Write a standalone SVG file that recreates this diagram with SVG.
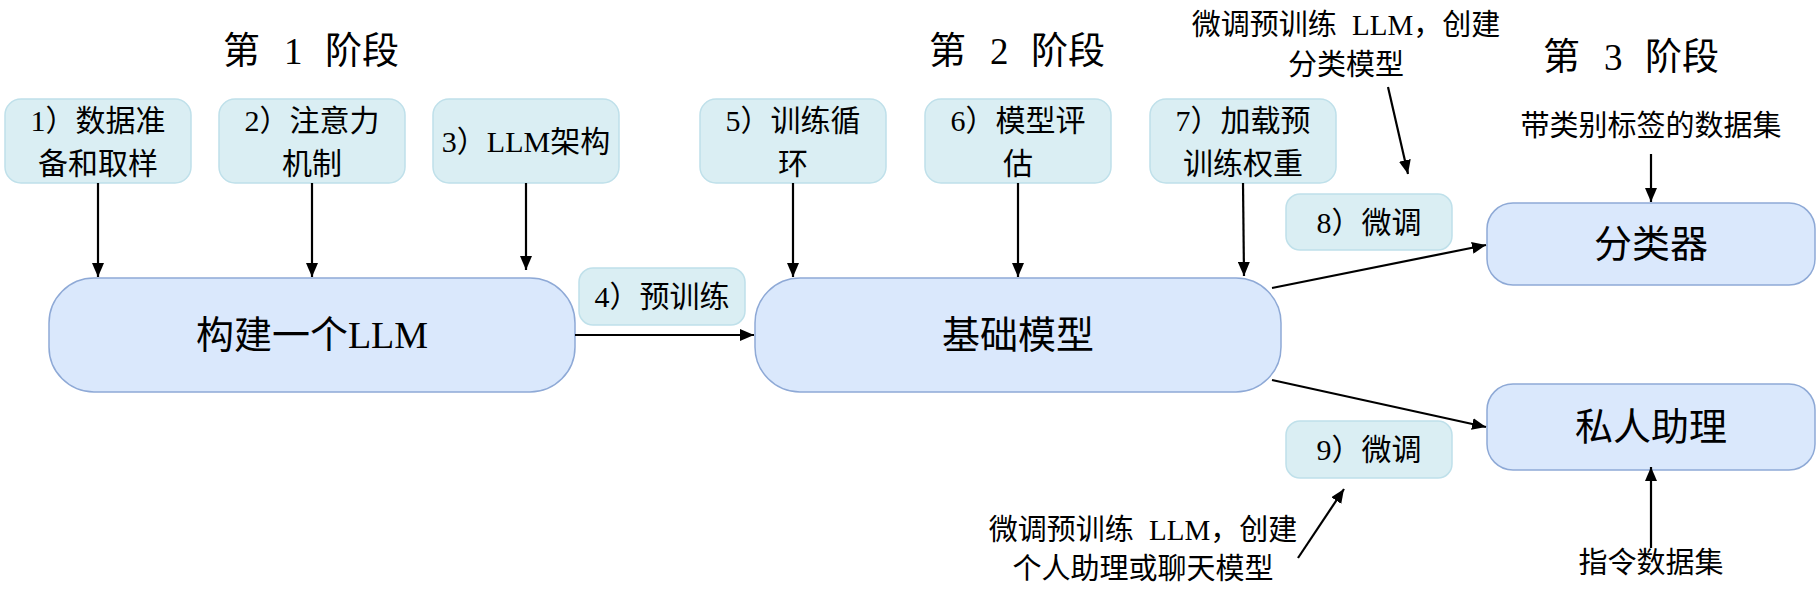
<svg xmlns="http://www.w3.org/2000/svg" width="1820" height="594" viewBox="0 0 1820 594">
<defs>
<marker id="ah" markerUnits="userSpaceOnUse" markerWidth="14" markerHeight="12" viewBox="0 0 14 12" refX="14" refY="6" orient="auto">
<path d="M0,0 L14,6 L0,12 z" fill="#000"/>
</marker>
<style>
text{font-family:"Liberation Serif","Noto Sans CJK SC",serif;fill:#000;text-anchor:middle}
.sm{fill:#daeef3;stroke:#bfe0ea;stroke-width:1.5}
.big{fill:#dae8fc;stroke:#8ea9d6;stroke-width:1.5}
.t{font-size:30px}
.title{font-size:37px;text-anchor:start}
.bt{font-size:38px}
.a{font-size:29px}
.c{stroke:#000;stroke-width:2.2;fill:none;marker-end:url(#ah)}
</style>
</defs>
<rect width="1820" height="594" fill="#fff"/>
<g id="titles">
<text class="title" y="64"><tspan x="223">第</tspan><tspan x="284">1</tspan><tspan x="325">阶段</tspan></text>
<text class="title" y="64"><tspan x="929">第</tspan><tspan x="990">2</tspan><tspan x="1031">阶段</tspan></text>
<text class="title" y="70"><tspan x="1543">第</tspan><tspan x="1604">3</tspan><tspan x="1645">阶段</tspan></text>
</g>
<g id="n1"><rect class="sm" x="5" y="99" width="186" height="84" rx="16"/><text class="t" x="98" y="131">1）数据准</text><text class="t" x="98" y="174">备和取样</text></g>
<g id="n2"><rect class="sm" x="219" y="99" width="186" height="84" rx="16"/><text class="t" x="312" y="131">2）注意力</text><text class="t" x="312" y="174">机制</text></g>
<g id="n3"><rect class="sm" x="433" y="99" width="186" height="84" rx="16"/><text class="t" x="526" y="152">3）LLM架构</text></g>
<g id="n5"><rect class="sm" x="700" y="99" width="186" height="84" rx="16"/><text class="t" x="793" y="131">5）训练循</text><text class="t" x="793" y="174">环</text></g>
<g id="n6"><rect class="sm" x="925" y="99" width="186" height="84" rx="16"/><text class="t" x="1018" y="131">6）模型评</text><text class="t" x="1018" y="174">估</text></g>
<g id="n7"><rect class="sm" x="1150" y="99" width="186" height="84" rx="16"/><text class="t" x="1243" y="131">7）加载预</text><text class="t" x="1243" y="174">训练权重</text></g>
<g id="n4"><rect class="sm" x="579" y="268" width="166" height="57" rx="14"/><text class="t" x="662" y="307">4）预训练</text></g>
<g id="n8"><rect class="sm" x="1286" y="194" width="166" height="56" rx="14"/><text class="t" x="1369" y="233">8）微调</text></g>
<g id="n9"><rect class="sm" x="1286" y="421" width="166" height="57" rx="14"/><text class="t" x="1369" y="460">9）微调</text></g>
<g id="build"><rect class="big" x="49" y="278" width="526" height="114" rx="45"/><text class="bt" x="312" y="348">构建一个LLM</text></g>
<g id="base"><rect class="big" x="755" y="278" width="526" height="114" rx="45"/><text class="bt" x="1018" y="348">基础模型</text></g>
<g id="cls"><rect class="big" x="1487" y="203" width="328" height="82" rx="26"/><text class="bt" x="1651" y="257">分类器</text></g>
<g id="asst"><rect class="big" x="1487" y="384" width="328" height="86" rx="26"/><text class="bt" x="1651" y="440">私人助理</text></g>
<g id="notes">
<text class="a" x="1346" y="35">微调预训练 <tspan dx="8">LLM</tspan>，创建</text>
<text class="a" x="1346" y="75">分类模型</text>
<text class="a" x="1651" y="136">带类别标签的数据集</text>
<text class="a" x="1143" y="540">微调预训练 <tspan dx="8">LLM</tspan>，创建</text>
<text class="a" x="1143" y="579">个人助理或聊天模型</text>
<text class="a" x="1651" y="573">指令数据集</text>
</g>
<g id="connectors">
<line class="c" x1="98" y1="183" x2="98" y2="277"/>
<line class="c" x1="312" y1="183" x2="312" y2="277"/>
<line class="c" x1="526" y1="183" x2="526" y2="270"/>
<line class="c" x1="793" y1="183" x2="793" y2="277"/>
<line class="c" x1="1018" y1="183" x2="1018" y2="277"/>
<line class="c" x1="1243" y1="183" x2="1244" y2="276"/>
<line class="c" x1="575" y1="335" x2="754" y2="335"/>
<line class="c" x1="1272" y1="288" x2="1486" y2="245"/>
<line class="c" x1="1272" y1="380" x2="1486" y2="427"/>
<line class="c" x1="1388" y1="87" x2="1408" y2="174"/>
<line class="c" x1="1651" y1="154" x2="1651" y2="202"/>
<line class="c" x1="1298" y1="558" x2="1344" y2="489"/>
<line class="c" x1="1651" y1="548" x2="1651" y2="467"/>
</g>
</svg>
